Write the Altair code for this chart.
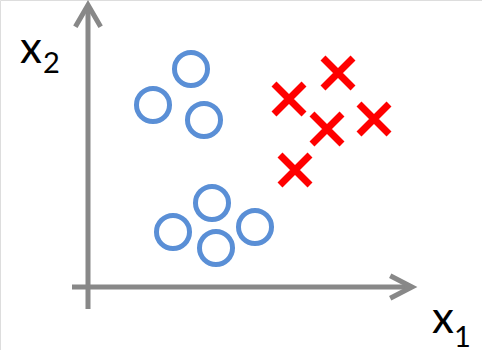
import altair as alt
import pandas as pd

# Class A (open circles) and class B (crosses) in feature space (x1, x2)
circle_x1 = [10.3, 6.5, 11.6, 12.4, 8.5, 16.7, 12.8]
circle_x2 = [21.8, 18.2, 16.7, 8.4, 5.5, 6.0, 3.9]

cross_x1 = [25.0, 20.1, 23.9, 28.6, 20.7]
cross_x2 = [21.4, 18.8, 15.8, 16.8, 11.7]

# Axis extents (start, end) and arrow tips
x_axis_span = [-1.6, 32.0]
y_axis_span = [-2.2, 27.8]
x_tip = 32.4
y_tip = 28.2

GRAY = "#888888"
BLUE = "#5A8FD6"
RED = "#FF0000"

X_DOMAIN = [-8.8, 39.4]
Y_DOMAIN = [-6.3, 28.7]

xs = alt.Scale(domain=X_DOMAIN, nice=False, zero=False)
ys = alt.Scale(domain=Y_DOMAIN, nice=False, zero=False)


def X(field):
    return alt.X(field, type="quantitative", scale=xs, axis=None)


def Y(field):
    return alt.Y(field, type="quantitative", scale=ys, axis=None)


axes_df = pd.DataFrame({
    "x": [x_axis_span[0], 0.0],
    "x2": [x_axis_span[1], 0.0],
    "y": [0.0, y_axis_span[0]],
    "y2": [0.0, y_axis_span[1]],
})

axis_lines = alt.Chart(axes_df).mark_rule(
    color=GRAY, strokeWidth=5, strokeCap="butt"
).encode(x=X("x"), x2="x2", y=Y("y"), y2="y2")

head_right = alt.Chart(pd.DataFrame({"x": [x_tip], "y": [0.0]})).mark_point(
    shape="M-1,-0.52L0,0L-1,0.52", filled=False, size=1900,
    strokeWidth=5, color=GRAY, opacity=1, strokeJoin="miter"
).encode(x=X("x"), y=Y("y"))

head_up = alt.Chart(pd.DataFrame({"x": [0.0], "y": [y_tip]})).mark_point(
    shape="M-0.58,1L0,0L0.58,1", filled=False, size=1900,
    strokeWidth=5, color=GRAY, opacity=1, strokeJoin="miter"
).encode(x=X("x"), y=Y("y"))

circles = alt.Chart(pd.DataFrame({"x1": circle_x1, "x2": circle_x2})).mark_point(
    shape="circle", filled=False, size=1090, strokeWidth=5,
    color=BLUE, opacity=1
).encode(x=X("x1"), y=Y("x2"))

crosses = alt.Chart(pd.DataFrame({"x1": cross_x1, "x2": cross_x2})).mark_point(
    shape="M-1,-1L1,1M-1,1L1,-1", filled=False, size=900, strokeWidth=7,
    strokeCap="butt", color=RED, opacity=1
).encode(x=X("x1"), y=Y("x2"))

# Axis names with subscripts
main_df = pd.DataFrame({"x": [-6.8, 34.4], "y": [22.4, -4.6], "t": ["x", "x"]})
sub_df = pd.DataFrame({"x": [-4.5, 36.6], "y": [21.4, -6.0], "t": ["2", "1"]})

main_text = alt.Chart(main_df).mark_text(
    font="Lato", fontSize=44, align="left", baseline="alphabetic", color="black"
).encode(x=X("x"), y=Y("y"), text="t:N")

sub_text = alt.Chart(sub_df).mark_text(
    font="Lato", fontSize=29, align="left", baseline="alphabetic", color="black"
).encode(x=X("x"), y=Y("y"), text="t:N")

chart = alt.layer(
    axis_lines, head_right, head_up, circles, crosses, main_text, sub_text
).properties(
    width=482, height=350, padding=0, autosize=alt.AutoSizeParams(type="none")
).configure_view(stroke=None).configure(background="white")

chart.save("out.html", embed_options={"renderer": "svg", "actions": False})
